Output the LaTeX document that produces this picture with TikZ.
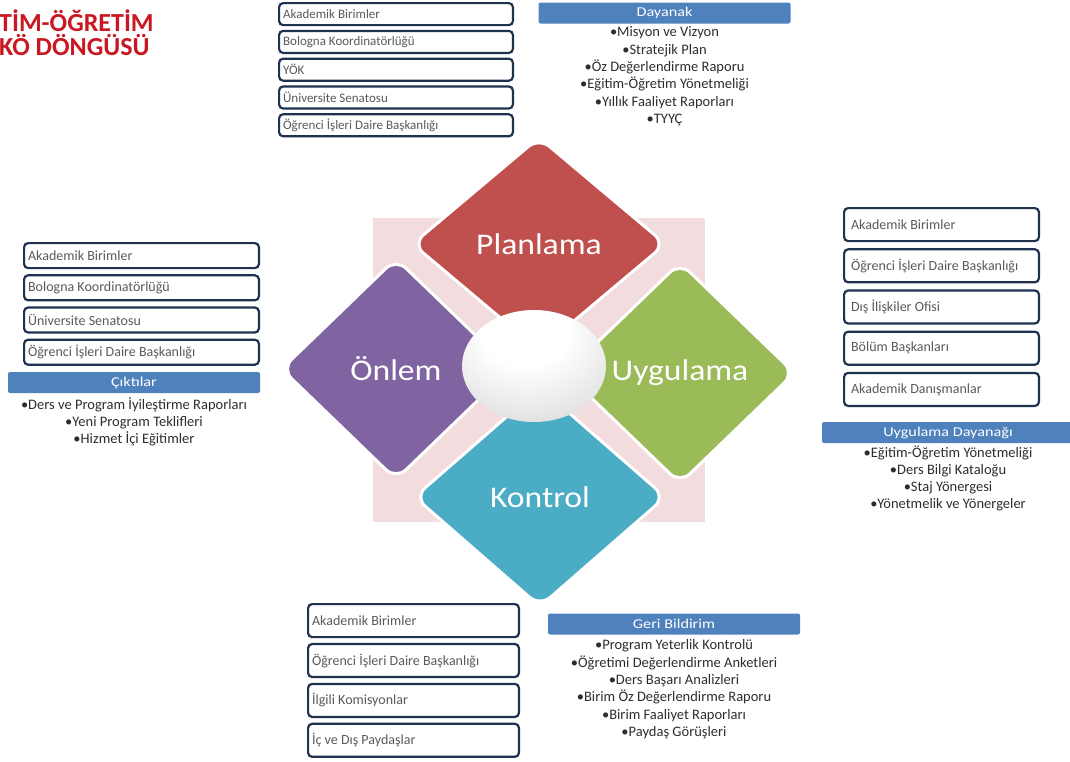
\documentclass[tikz,border=0pt]{standalone}
\usepackage{fontspec}
\setmainfont{Carlito}
\newfontfamily\headfont[FakeStretch=1.2]{Carlito}
\newfontfamily\petalfont[FakeStretch=1.12]{Carlito}
\usetikzlibrary{positioning,shapes.geometric,shadows}

\definecolor{titlered}{RGB}{200,25,35}
\definecolor{planred}{RGB}{192,80,77}
\definecolor{uyggreen}{RGB}{155,187,89}
\definecolor{konblue}{RGB}{75,172,198}
\definecolor{onpurple}{RGB}{128,100,162}
\definecolor{backpink}{RGB}{242,220,221}
\definecolor{boxline}{RGB}{31,50,79}
\definecolor{boxtext}{RGB}{90,90,90}
\definecolor{headblue}{RGB}{79,129,189}
\definecolor{listtext}{RGB}{45,45,45}

\pgfdeclareradialshading{egg}{\pgfpoint{-4bp}{20bp}}{color(0bp)=(white); color(15bp)=(white); color(32bp)=(black!10); color(48bp)=(black!26); color(62bp)=(black!38)}

\begin{document}
\begin{tikzpicture}[x=1pt, y=-1pt,
  box/.style = {draw=boxline, line width=2.2pt, rounded corners=4pt, fill=white, text=boxtext, align=flush left, inner xsep=4pt, inner ysep=0pt},
  topbox/.style = {box, font=\fontsize{13}{15}\selectfont, text width=225.8pt, minimum height=22pt},
  leftbox/.style = {box, font=\fontsize{14}{16}\selectfont, text width=226.8pt, minimum height=25pt},
  rightbox/.style = {box, font=\fontsize{14}{16}\selectfont, inner xsep=7pt, text width=180.8pt, minimum height=33pt},
  botbox/.style = {box, font=\fontsize{14}{16}\selectfont, text width=202.8pt, minimum height=33pt},
  head/.style = {fill=headblue, rounded corners=2pt, text=white, font=\headfont\fontsize{13.5}{15}\selectfont, minimum width=252pt, minimum height=21pt, inner sep=0pt},
  list/.style = {align=center, text=listtext, font=\fontsize{14.5}{17.3}\selectfont, inner sep=0pt},
  petal/.style = {diamond, draw=white, line width=3pt, rounded corners=14pt, text=white, font=\petalfont\fontsize{30}{34}\selectfont, inner sep=0pt}]

  \useasboundingbox (0,0) rectangle (1070,761);

  \node[anchor=north west, inner sep=0pt, align=left, text=titlered, font=\fontsize{26}{24}\selectfont\bfseries] (Baslik) at (-1,10) {TİM-ÖĞRETİM\\KÖ DÖNGÜSÜ};

  % cycle
  \fill[backpink] (373,218) rectangle (705,522);
  \node[petal, fill=planred, minimum width=254pt, minimum height=214pt] (Planlama) at (539,244) {Planlama};
  \node[petal, fill=uyggreen, minimum width=230pt, minimum height=222pt] (Uygulama) at (680,373) {Uygulama};
  \node[petal, fill=onpurple, minimum width=230pt, minimum height=222pt] (Onlem) at (396,369) {Önlem};
  \node[petal, fill=konblue, minimum width=252pt, minimum height=220pt] (Kontrol) at (540,497) {Kontrol};
  \node[ellipse, shading=egg, drop shadow={shadow xshift=0pt, shadow yshift=-3pt, shadow scale=0.94, fill=boxline, opacity=0.8}, minimum width=144pt, minimum height=112pt, inner sep=0pt] (Merkez) at (534,366) {};

  % top
  \node[topbox, anchor=north west] (TopAkademik) at (278,2) {Akademik Birimler};
  \node[topbox, below=3.6pt of TopAkademik] (TopBologna) {Bologna Koordinatörlüğü};
  \node[topbox, below=3.6pt of TopBologna] (TopYok) {YÖK};
  \node[topbox, below=3.6pt of TopYok] (TopSenato) {Üniversite Senatosu};
  \node[topbox, below=3.6pt of TopSenato] (TopOgrenci) {Öğrenci İşleri Daire Başkanlığı};

  \node[head] (Dayanak) at (664.5,13) {Dayanak};
  \node[list, below=3pt of Dayanak] (DayanakList) {•Misyon ve Vizyon\\•Stratejik Plan\\•Öz Değerlendirme Raporu\\•Eğitim-Öğretim Yönetmeliği\\•Yıllık Faaliyet Raporları\\•TYYÇ};

  % left
  \node[leftbox, anchor=north west] (LeftAkademik) at (23,242) {Akademik Birimler};
  \node[leftbox, below=5pt of LeftAkademik] (LeftBologna) {Bologna Koordinatörlüğü};
  \node[leftbox, below=5pt of LeftBologna] (LeftSenato) {Üniversite Senatosu};
  \node[leftbox, below=5pt of LeftSenato] (LeftOgrenci) {Öğrenci İşleri Daire Başkanlığı};

  \node[head] (Ciktilar) at (134,382.5) {Çıktılar};
  \node[list, below=4pt of Ciktilar] (CiktilarList) {•Ders ve Program İyileştirme Raporları\\•Yeni Program Teklifleri\\•Hizmet İçi Eğitimler};

  % right
  \node[rightbox, anchor=north west] (RightAkademik) at (843,207) {Akademik Birimler};
  \node[rightbox, below=6pt of RightAkademik] (RightOgrenci) {Öğrenci İşleri Daire Başkanlığı};
  \node[rightbox, below=6pt of RightOgrenci] (RightDis) {Dış İlişkiler Ofisi};
  \node[rightbox, below=6pt of RightDis] (RightBolum) {Bölüm Başkanları};
  \node[rightbox, below=6pt of RightBolum] (RightDanisman) {Akademik Danışmanlar};

  \node[head] (UygDayanak) at (948,432.5) {Uygulama Dayanağı};
  \node[list, below=2pt of UygDayanak] (UygDayanakList) {•Eğitim-Öğretim Yönetmeliği\\•Ders Bilgi Kataloğu\\•Staj Yönergesi\\•Yönetmelik ve Yönergeler};

  % bottom
  \node[botbox, anchor=north west] (BotAkademik) at (307,603) {Akademik Birimler};
  \node[botbox, below=4.7pt of BotAkademik] (BotOgrenci) {Öğrenci İşleri Daire Başkanlığı};
  \node[botbox, below=4.7pt of BotOgrenci] (BotKomisyon) {İlgili Komisyonlar};
  \node[botbox, below=4.7pt of BotKomisyon] (BotPaydas) {İç ve Dış Paydaşlar};

  \node[head] (GeriBildirim) at (674,624) {Geri Bildirim};
  \node[list, below=5pt of GeriBildirim] (GeriList) {•Program Yeterlik Kontrolü\\•Öğretimi Değerlendirme Anketleri\\•Ders Başarı Analizleri\\•Birim Öz Değerlendirme Raporu\\•Birim Faaliyet Raporları\\•Paydaş Görüşleri};
\end{tikzpicture}
\end{document}
